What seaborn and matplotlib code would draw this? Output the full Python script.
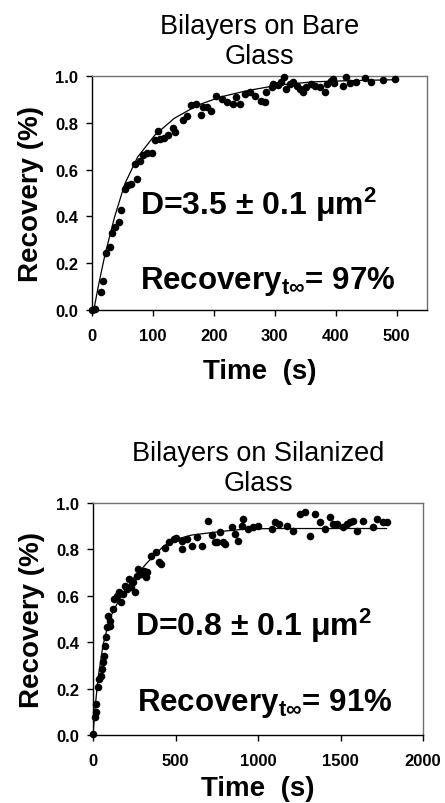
import numpy as np
import pandas as pd
import matplotlib
matplotlib.use("Agg")
import matplotlib.pyplot as plt
import seaborn as sns

# ---------------- data: bilayers on bare glass ----------------
bare_t = [0, 5, 14, 18, 23.5, 29, 33, 38, 44, 48, 54, 59, 64.5, 74, 70, 78, 84, 91, 98,
          103, 108, 111, 118, 125, 133, 137, 149, 156, 163, 171, 179, 182, 189, 196,
          204, 213, 221, 232, 243, 237, 251, 259, 267, 278, 284, 286, 295, 297, 305,
          311, 315, 319, 325, 330, 336, 341, 346, 352, 360, 366, 374, 382, 385, 393,
          396, 398, 412, 417, 423, 434, 448, 458, 478, 497]
bare_y = [0, 0.004, 0.076, 0.126, 0.243, 0.27, 0.33, 0.354, 0.376, 0.426, 0.516, 0.533,
          0.54, 0.561, 0.626, 0.636, 0.661, 0.669, 0.669, 0.726, 0.764, 0.729, 0.733,
          0.75, 0.776, 0.761, 0.811, 0.829, 0.876, 0.879, 0.833, 0.869, 0.869, 0.851,
          0.914, 0.90, 0.887, 0.88, 0.88, 0.909, 0.923, 0.93, 0.916, 0.895, 0.89, 0.93,
          0.951, 0.966, 0.962, 0.973, 0.994, 0.944, 0.966, 0.973, 0.959, 0.944, 0.93,
          0.951, 0.966, 0.959, 0.951, 0.93, 0.966, 0.98, 0.987, 0.97, 0.959, 0.994,
          0.97, 0.976, 0.99, 0.973, 0.984, 0.987]
bare_fit_t = [3, 10, 21, 37, 54, 75, 103, 135, 174, 212, 254, 308, 363, 420, 497]
bare_fit_y = [0, 0.097, 0.233, 0.397, 0.54, 0.654, 0.747, 0.819, 0.876, 0.911, 0.937,
              0.962, 0.975, 0.98, 0.984]

# ---------------- data: bilayers on silanized glass ----------------
sil_t = [0, 14, 20, 20, 30, 34, 46, 54, 60, 66, 70, 80, 86, 90, 100, 106, 120, 130, 146,
         160, 170, 180, 194, 206, 220, 230, 240, 254, 266, 274, 290, 310, 330, 320, 350,
         380, 400, 410, 434, 460, 490, 506, 540, 540, 570, 600, 630, 660, 699, 720, 740,
         770, 790, 750, 800, 840, 861, 881, 901, 911, 941, 972, 1002, 1083, 1103, 1129,
         1174, 1214, 1255, 1285, 1315, 1345, 1376, 1406, 1436, 1457, 1477, 1517, 1537,
         1558, 1578, 1598, 1638, 1699, 1719, 1760, 1780]
sil_y = [0.004, 0.076, 0.098, 0.134, 0.205, 0.241, 0.256, 0.284, 0.313, 0.342, 0.385,
         0.421, 0.464, 0.514, 0.493, 0.471, 0.543, 0.586, 0.601, 0.615, 0.572, 0.608,
         0.644, 0.629, 0.672, 0.636, 0.658, 0.615, 0.684, 0.716, 0.694, 0.708, 0.704,
         0.68, 0.773, 0.787, 0.744, 0.737, 0.805, 0.833, 0.845, 0.848, 0.802, 0.838,
         0.845, 0.816, 0.852, 0.816, 0.924, 0.862, 0.83, 0.876, 0.83, 0.83, 0.823, 0.895,
         0.866, 0.838, 0.902, 0.931, 0.888, 0.895, 0.902, 0.888, 0.917, 0.909, 0.902,
         0.881, 0.953, 0.96, 0.859, 0.953, 0.917, 0.888, 0.938, 0.909, 0.909, 0.895,
         0.909, 0.917, 0.924, 0.881, 0.924, 0.895, 0.931, 0.917, 0.917]
sil_fit_t = [0, 10, 30, 60, 100, 170, 250, 330, 430, 510, 600, 770, 930, 1100, 1780]
sil_fit_y = [0, 0.098, 0.241, 0.385, 0.5, 0.6, 0.68, 0.744, 0.816, 0.845, 0.862, 0.877,
             0.888, 0.89, 0.89]

titles = ["Bilayers on Bare\nGlass", "Bilayers on Silanized\nGlass"]
d_texts = ["D=3.5 \u00b1 0.1 \u03bcm$^{\\mathbf{2}}$", "D=0.8 \u00b1 0.1 \u03bcm$^{\\mathbf{2}}$"]
r_texts = ["Recovery$_{\\mathbf{t\\infty}}$= 97%", "Recovery$_{\\mathbf{t\\infty}}$= 91%"]
yticks = [0.0, 0.2, 0.4, 0.6, 0.8, 1.0]
xticks_top = [0, 100, 200, 300, 400, 500]
xticks_bot = [0, 500, 1000, 1500, 2000]

sns.set_style("ticks")
plt.rcParams['font.family'] = ['Liberation Sans', 'DejaVu Sans']
plt.rcParams['mathtext.fontset'] = 'custom'
plt.rcParams['mathtext.rm'] = 'Liberation Sans'
plt.rcParams['mathtext.bf'] = 'Liberation Sans:bold'
plt.rcParams['mathtext.it'] = 'Liberation Sans:italic'
for k in ['text.color', 'axes.labelcolor', 'xtick.color', 'ytick.color']:
    plt.rcParams[k] = 'black'

fig = plt.figure(figsize=(4.45, 8.04), dpi=100)
ax1 = fig.add_axes([92/445, (804-311)/804, 335/445, 234/804])
ax2 = fig.add_axes([93/445, (804-736)/804, 330/445, 232/804])

panels = [
    (ax1, bare_t, bare_y, bare_fit_t, bare_fit_y, (0, 550), xticks_top, (79, 0.453), (79, 0.128), 11),
    (ax2, sil_t, sil_y, sil_fit_t, sil_fit_y, (0, 2000), xticks_bot, (255, 0.474), (267, 0.138), 5),
]

for i, (ax, t, y, ft, fy, xlim, xt, dpos, rpos, lpad) in enumerate(panels):
    pts = pd.DataFrame({"t": t, "y": y})
    fit = pd.DataFrame({"t": ft, "y": fy})
    sns.lineplot(data=fit, x="t", y="y", ax=ax, color="black", linewidth=0.9,
                 estimator=None, sort=False, zorder=2)
    sns.scatterplot(data=pts, x="t", y="y", ax=ax, color="black", s=30,
                    edgecolor="black", linewidth=0, zorder=3, clip_on=False)
    ax.set_xlim(*xlim)
    ax.set_ylim(0, 1.0)
    ax.set_xticks(xt)
    ax.set_yticks(yticks)
    ax.set_yticklabels([f"{v:.1f}" for v in yticks])
    ax.tick_params(axis="both", direction="out", length=4, width=1, labelsize=12,
                   color="black", labelcolor="black")
    ax.tick_params(axis="x", pad=9)
    ax.tick_params(axis="y", pad=6)
    for lab in ax.get_xticklabels() + ax.get_yticklabels():
        lab.set_fontweight("bold")
    ax.set_xlabel("Time  (s)", fontsize=20, fontweight="bold", labelpad=lpad)
    ax.set_ylabel("Recovery (%)", fontsize=20, fontweight="bold", labelpad=8)
    for s in ["left", "bottom"]:
        ax.spines[s].set_color("black")
        ax.spines[s].set_linewidth(1.0)
    for s in ["top", "right"]:
        ax.spines[s].set_visible(True)
        ax.spines[s].set_color("#707070")
        ax.spines[s].set_linewidth(1.0)
    ax.set_title(titles[i], fontsize=19.5, pad=9, linespacing=1.2, color="black")
    ax.text(dpos[0], dpos[1], d_texts[i], fontsize=23, fontweight="bold",
            va="center", ha="left")
    ax.text(rpos[0], rpos[1], r_texts[i], fontsize=22.5, fontweight="bold",
            va="center", ha="left")

fig.savefig("out.png", dpi=100)
